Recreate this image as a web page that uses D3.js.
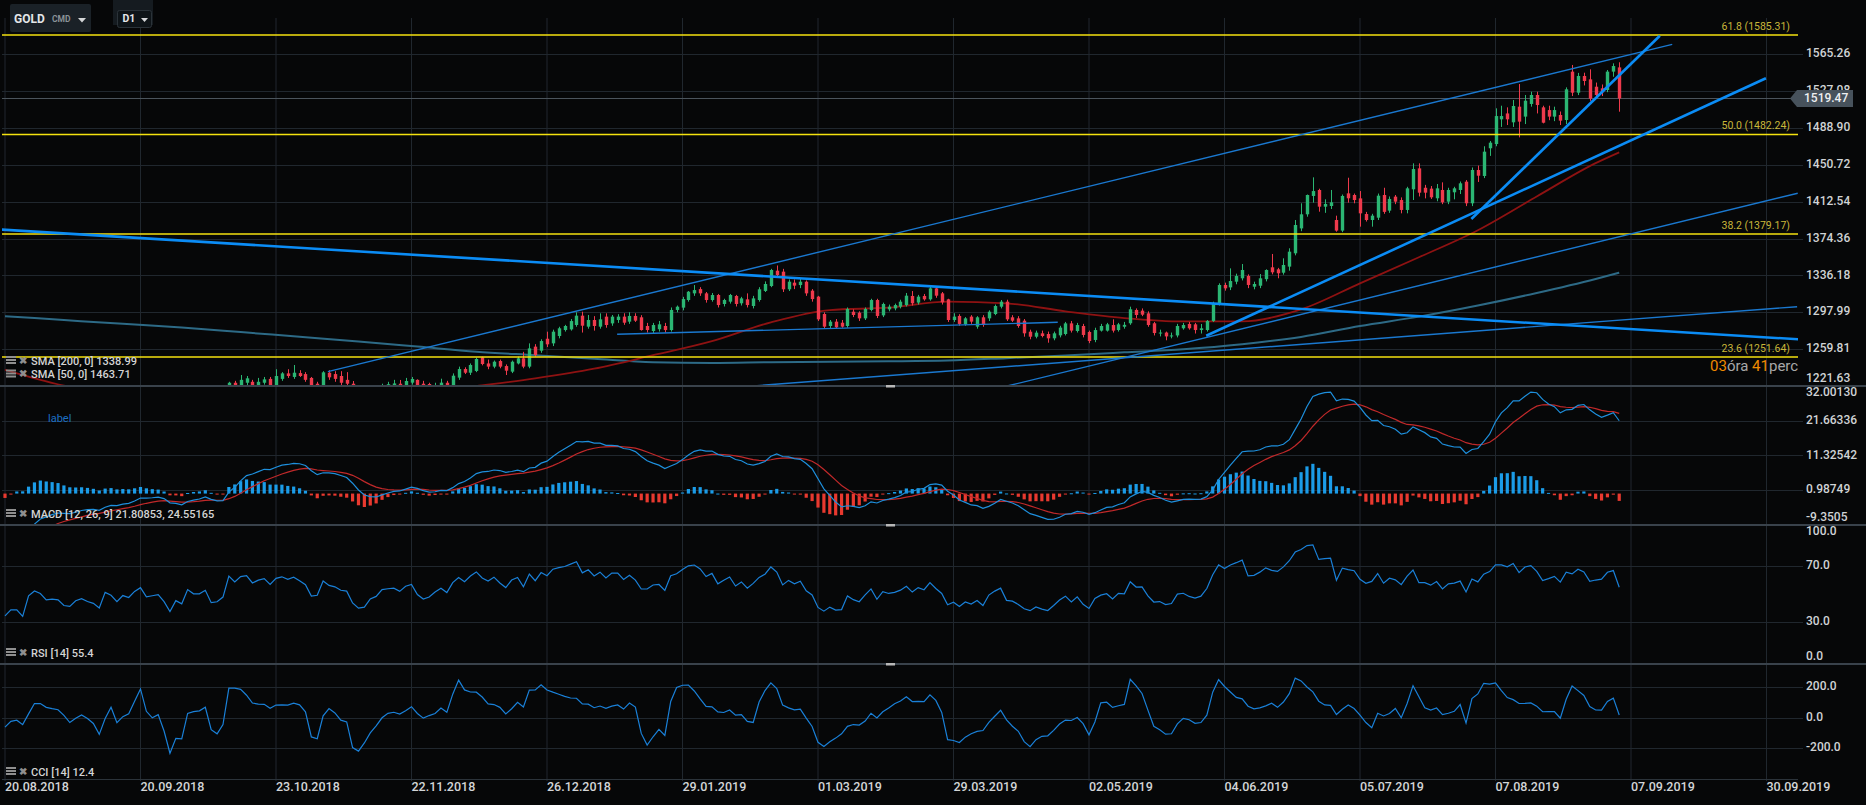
<!DOCTYPE html>
<html>
<head>
<meta charset="utf-8">
<script src="https://cdn.jsdelivr.net/npm/d3@7.9.0/dist/d3.min.js"></script>
<style>
  html, body { margin: 0; background: #060708; overflow: hidden; }
  svg { display: block; font-family: Roboto, 'Noto Sans', sans-serif; }
</style>
</head>
<body>
<svg id="chart" width="1866" height="805"></svg>
<script>
// closes before the visible range (June - July 2018), only used to warm up the indicators
const preCloses = [
  1294, 1292, 1297, 1297, 1298, 1298, 1299, 1294, 1299, 1302, 1278, 1279, 1276, 1268, 1263,
  1270, 1267, 1257, 1253, 1247, 1251,
  1242, 1253, 1253, 1257, 1255, 1259, 1254, 1245, 1245, 1241, 1240, 1227, 1224, 1223, 1231,
  1224, 1226, 1231, 1222, 1223, 1220, 1224
];

// daily candles [open, high, low, close], from 01.08.2018; bar 0 = 20.08.2018
const firstBar = 13;
const candles = [
  [1224,1228,1213,1216],[1216,1217,1204,1213],[1213,1220,1205,1214],[1214,1215,1204,1208],[1208,1216,1207,1209],
  [1209,1217,1207,1213],[1213,1217,1210,1212],[1212,1215,1206,1211],[1211,1212,1191,1194],[1194,1199,1190,1193],
  [1193,1195,1160,1174],[1174,1180,1167,1174],[1174,1188,1172,1184],
  // 0
  [1184,1193,1183,1190],[1190,1201,1188,1195],[1195,1199,1191,1195],[1195,1197,1183,1186],[1186,1207,1185,1206],
  [1206,1214,1203,1212],[1212,1214,1204,1209],[1209,1212,1199,1201],[1201,1207,1196,1202],[1202,1206,1196,1201],
  // 10
  [1201,1202,1193,1194],[1194,1195,1187,1193],[1193,1201,1191,1198],[1198,1204,1195,1200],[1200,1205,1194,1197],
  [1197,1201,1194,1195],[1195,1197,1187,1190],[1190,1205,1189,1204],[1204,1211,1201,1201],[1201,1206,1192,1194],
  // 20
  [1194,1203,1193,1200],[1200,1204,1195,1198],[1198,1206,1197,1204],[1204,1211,1202,1208],[1208,1209,1194,1199],
  [1199,1203,1195,1200],[1200,1204,1196,1201],[1201,1203,1191,1194],[1194,1195,1181,1182],[1182,1196,1180,1192],
  // 30
  [1192,1194,1183,1188],[1188,1208,1187,1204],[1204,1205,1196,1199],[1199,1206,1197,1199],[1199,1208,1197,1203],
  [1203,1203,1183,1188],[1188,1191,1182,1189],[1189,1196,1185,1194],[1194,1226,1192,1225],[1225,1227,1215,1218],
  // 40
  [1218,1233,1217,1228],[1225,1232,1221,1229.6],[1226,1228,1219,1221],[1221,1230,1218,1226],[1225,1231,1223,1228.5],
  [1229,1231,1219,1222],[1222,1239,1220,1232],[1229,1236,1227,1234.7],[1234.7,1239,1230,1232],[1231,1243.4,1229,1235.4],
  // 50
  [1235,1238,1231,1232],[1234,1236,1226,1228],[1230,1231,1213,1215],[1224,1226,1214,1216],[1215,1237,1213,1235.8],
  [1235.4,1238,1228,1230.6],[1234,1237,1226,1229],[1232,1237,1222,1225],[1228,1236,1222,1224],[1224,1226.8,1207,1209],
  // 60
  [1209,1212,1196,1201],[1201,1206,1197,1202],[1202,1213,1199,1211],[1211,1217,1208,1214],[1214,1224,1212,1222.5],
  [1221,1226,1218,1223.5],[1221,1228,1219,1224.3],[1224,1227.9,1219,1221],[1220,1230,1218,1226.8],[1225.1,1231,1223,1228.9],
  // 70
  [1228,1228.5,1217,1219],[1224,1227,1211,1214],[1223.7,1225,1214,1216],[1216,1225,1214,1221],[1221,1229.2,1217,1225.1],
  [1225,1227,1219,1221],[1221,1234.7,1220,1232.3],[1230.3,1241.7,1228,1239.2],[1239.2,1241,1234,1235.4],[1235.4,1245,1233,1243.4],
  // 80
  [1237.2,1251,1236,1249.6],[1251.3,1252,1243,1244.4],[1245,1249,1239,1241.7],[1241.7,1248,1240,1246.8],[1247.5,1249,1240,1241.7],
  [1242.3,1244,1233,1237.5],[1236.5,1248,1235,1246.8],[1245,1252,1244,1250.3],[1250.3,1257,1240,1241.7],[1241.7,1265.8,1240,1260.6],
  // 90
  [1262.4,1265,1252,1253.7],[1258.2,1270,1256,1268.2],[1270.6,1277.9,1262,1264.8],[1265.8,1280,1263,1277.9],[1273.4,1283,1271,1281.4],
  [1279.6,1285,1278,1283.8],[1280.3,1291,1279,1288.9],[1284.8,1298,1283,1294.5],[1294.5,1298.6,1277,1284.1],[1283.1,1295.2,1281,1290],
  // 100
  [1290,1294,1279,1283.8],[1283.1,1296.9,1281,1290.7],[1293.5,1296.9,1282,1284.8],[1286.5,1295.2,1284,1293.5],[1290,1296,1287,1293.5],
  [1293.5,1297,1285,1287.2],[1288.3,1298,1286,1294.2],[1294.2,1297,1288,1289.3],[1292.8,1295,1279,1279.6],[1283.8,1287,1277,1279.6],
  // 110
  [1278.6,1287,1276,1284.8],[1280.4,1289,1278,1285.5],[1283.8,1287,1277,1279.6],[1279.6,1303,1278,1300.4],[1300.4,1305,1298,1303.8],
  [1302.8,1314,1300,1311.7],[1310.7,1320,1309,1319.3],[1317.6,1326.2,1315,1321],[1322,1324,1315,1317.6],[1317.6,1319,1308,1310.7],
  // 120
  [1310.7,1318,1309,1315.9],[1315.9,1317,1303,1305.5],[1306.6,1312,1304,1310.7],[1309,1317,1307,1315.9],[1314.9,1316,1304,1306.6],
  [1307.3,1314,1305,1312.4],[1311.4,1317.6,1303,1305.5],[1304.5,1315,1302,1312.4],[1310.7,1324,1309,1321.8],[1320.1,1330,1319,1327.3],
  // 130
  [1325.2,1343,1324,1341.8],[1341.1,1346.5,1334,1336.6],[1340.1,1343,1319,1321.8],[1321.8,1332,1320,1329.7],[1328.7,1332,1322,1325.6],
  [1326.2,1333,1323,1329.7],[1329.7,1331,1315,1317.6],[1320.4,1322,1309,1311.7],[1314.2,1315,1289,1290.7],[1296.2,1298,1281,1283.1],
  // 140
  [1283.8,1290,1281,1288.3],[1288.3,1291,1281,1282.4],[1287.2,1290,1282,1283.1],[1283.8,1303,1282,1301.4],[1298.6,1301,1293,1295.2],
  [1297.6,1299,1289,1291.7],[1291.7,1303,1290,1301.4],[1300.4,1312,1299,1310.7],[1310.7,1312,1292,1294.2],[1294.8,1308,1293,1306.6],
  // 150
  [1301,1306,1299,1303.8],[1302,1307,1300,1305.5],[1303.8,1311,1302,1309],[1305.5,1318,1304,1315.2],[1314.9,1320,1305,1307.3],
  [1308,1316,1306,1314.2],[1314.9,1317,1310,1311.4],[1311.4,1325,1310,1322.8],[1322.8,1324,1313,1315.2],[1317.6,1319,1306,1308.3],
  // 160
  [1311.4,1312,1288,1290],[1290,1297,1288,1293.5],[1294.2,1296,1284,1285.9],[1285.5,1293,1284,1291.7],[1293.5,1295,1286,1288.3],
  [1283.1,1294,1281,1292.8],[1292.8,1295,1283,1284.8],[1291.7,1300,1289,1298.6],[1296.2,1306,1295,1304.5],[1303.8,1310.7,1302,1309],
  // 170
  [1309,1311,1289,1290.7],[1292.8,1295,1288,1289.3],[1291.7,1294,1282,1283.8],[1289.3,1291,1272.7,1276.2],[1277.9,1280,1270,1272.7],
  [1272.7,1279,1271,1276.9],[1276.2,1279,1272,1273.4],[1275.5,1278,1266.5,1271],[1271,1278,1269,1276.2],[1274.1,1284,1272,1282.1],
  // 180
  [1275.5,1288,1274,1286.5],[1286.5,1289,1277,1279],[1278.6,1287,1277,1284.8],[1283.8,1286,1272,1274.5],[1277.6,1279,1266,1268.2],
  [1269.3,1282,1267,1279.6],[1279,1286,1278,1283.8],[1279,1287,1278,1285.5],[1284.8,1290.7,1277,1279],[1279.6,1287,1278,1285.5],
  // 190
  [1283,1288,1281,1285],[1286.6,1303.8,1285,1301.1],[1300.4,1302,1292,1295.2],[1299.7,1302,1294,1295.5],[1296.9,1299,1283,1284.8],
  [1286.6,1288,1274,1276.5],[1277,1280,1273,1277],[1277,1278,1269,1273],[1273,1277,1271,1274],[1274,1286,1272,1283.8],
  // 200
  [1281.4,1287,1280,1284.8],[1285.9,1288,1280,1281.4],[1285.5,1287,1276,1279.6],[1279.6,1285.9,1276,1281.4],[1279.6,1290,1278,1289],
  [1289,1309,1288,1307.3],[1306.6,1328,1305,1326.3],[1326.3,1328.7,1320.4,1322.8],[1323.8,1343.5,1321,1330.4],[1329.7,1338,1327,1335.6],
  // 210
  [1333.2,1348,1331,1341.8],[1335.6,1337.3,1323,1326.3],[1324.5,1329.7,1321.8,1327.3],[1325.5,1337.6,1323,1333.2],[1332.3,1342.5,1330,1341.8],
  [1344.6,1358.4,1337.3,1339.4],[1342.5,1344,1333.2,1338.4],[1339,1353.9,1337,1347],[1345.3,1364.3,1341.1,1360.8],[1359.1,1393.6,1357,1388.4],
  // 220
  [1384.9,1410.9,1382,1399.5],[1399.5,1420,1397,1419.5],[1418.5,1437.8,1411.6,1423.6],[1424.7,1426,1402.2,1407.4],[1407.4,1415,1401,1410.2],
  [1408.1,1424.7,1405,1411.9],[1393.6,1398.1,1381.5,1382.6],[1382.6,1420,1381,1418.5],[1421.2,1437.4,1411.6,1416.1],[1419.5,1421,1410.9,1414.3],
  // 230
  [1416,1423.6,1386.7,1400.5],[1399.8,1402,1392,1393.6],[1393.6,1400,1386.7,1398.1],[1396,1421,1393.6,1418.8],[1419.5,1427,1400,1402],
  [1403.3,1418,1401,1415.4],[1417.8,1419.5,1410,1412.6],[1414.3,1417,1400.5,1404],[1404,1428,1400.5,1426.4],[1425.4,1452.3,1414.3,1446.4],
  // 240
  [1447.1,1452.3,1418,1421.9],[1427,1430,1416,1421.9],[1426.1,1428.8,1415.4,1417.1],[1416.1,1430.9,1413,1426.4],[1424.7,1432.6,1410,1411.9],
  [1412.6,1427,1410,1424.7],[1422.3,1428,1415,1426.4],[1424.7,1433.5,1420.5,1431.6],[1433.3,1435,1408,1410.9],[1410.9,1448,1408,1445.4],
  // 250
  [1445.4,1450,1433,1439.5],[1439.2,1470,1437,1464.4],[1467.9,1475.4,1460,1473.7],[1472.3,1509.3,1470,1501.3],[1497.9,1512,1490,1501.3],
  [1504,1510.3,1492,1497.9],[1494.8,1517.9,1490,1511.7],[1511,1534.5,1479.2,1495.5],[1500.7,1523.1,1493,1517.2],[1513.8,1526.5,1511,1523.1],
  // 260
  [1523.1,1526.5,1504,1512.7],[1510.3,1512,1493.7,1494.4],[1507.5,1512,1497,1500.7],[1500.7,1511,1496,1507.5],[1502.4,1506,1492,1496.5],
  [1497.2,1531,1493,1529],[1547.3,1554.2,1522,1525.5],[1525.5,1546,1523,1542.8],[1542.8,1546.2,1533,1537.6],[1539.3,1549.7,1517,1519.3],
  // 270
  [1531.7,1536,1519,1523.1],[1530,1534,1522,1525.9],[1528.3,1549,1526,1547.3],[1547.3,1555.9,1542,1553.1],[1551.7,1557,1505.8,1519.47]
];

const smaBars = [0,10,20,30,40,50,60,70,80,90,100,110,120,130,140,150,160,170,180,190,200,210,220,230,240,250,260,270,274];
const sma200 = [1294,1290,1286,1282.3,1277.5,1272.6,1267.7,1262.5,1257.2,1253.5,1249.8,1246.3,1245.5,1246.3,1246.8,
  1247.2,1248,1250.5,1253.3,1256.5,1259.8,1265,1272.5,1283.8,1293.5,1305,1318,1332.5,1339];
const sma50 = [1238.4,1222,1212,1204,1200,1203,1208,1214,1221.5,1229.5,1239.6,1253.5,1268,1287.6,1300.3,
  1302.8,1309,1307.3,1299,1292,1288.5,1288.6,1301,1328,1355,1383,1418,1452.5,1463.7];

// drawn trend lines: [bar1, price1, bar2, price2]
const heavyLines = [
  [-1, 1383.8, 304.4, 1270.0],
  [203.9, 1273.7, 298.9, 1540.4],
  [248.9, 1394.6, 280.9, 1584.5]
];
const lightLines = [
  [54.8, 1236.5, 283.0, 1575.6],
  [170.1, 1221.6, 304.3, 1421.3],
  [124.8, 1220.7, 304.2, 1303.8],
  [103.9, 1275.2, 178.7, 1287.6]
];

const fibLevels = ['61.8', '50.0', '38.2', '23.6'];
const fibPrices = [1585.31, 1482.24, 1379.17, 1251.64];
const lastPrice = 1519.47;

const priceTicks = [1565.26, 1527.08, 1488.90, 1450.72, 1412.54, 1374.36, 1336.18, 1297.99, 1259.81, 1221.63];
const macdTicks = ['32.00130', '21.66336', '11.32542', '0.98749', '-9.3505'];
const rsiTicks = ['100.0', '70.0', '30.0', '0.0'];
const cciTicks = ['200.0', '0.0', '-200.0'];
const dateLabels = ['20.08.2018', '20.09.2018', '23.10.2018', '22.11.2018', '26.12.2018', '29.01.2019', '01.03.2019',
  '29.03.2019', '02.05.2019', '04.06.2019', '05.07.2019', '07.08.2019', '07.09.2019', '30.09.2019'];
const barsPerLabel = 23;

const legendSma = ['SMA [200,  0] 1338.99', 'SMA [50,  0] 1463.71'];
const legendMacd = 'MACD [12, 26, 9] 21.80853,  24.55165';
const legendRsi = 'RSI [14]  55.4';
const legendCci = 'CCI [14]  12.4';

// ---------- indicators computed from the candles ----------
const closes = preCloses.concat(candles.map(d => d[3]));
const offset = preCloses.length + firstBar;

function ema(values, n) {
  const k = 2 / (n + 1);
  let prev = values[0];
  return values.map((v, i) => (prev = i === 0 ? v : v * k + prev * (1 - k)));
}
const e12 = ema(closes, 12);
const e26 = ema(closes, 26);
const macd = closes.map((c, i) => e12[i] - e26[i]);
const signal = ema(macd, 9);

const rsi = [];
let avgGain = 0, avgLoss = 0;
for (let k = 1; k < closes.length; k++) {
  const ch = closes[k] - closes[k - 1];
  const g = Math.max(ch, 0), l = Math.max(-ch, 0);
  if (k <= 14) { avgGain += g / 14; avgLoss += l / 14; }
  else { avgGain = (avgGain * 13 + g) / 14; avgLoss = (avgLoss * 13 + l) / 14; }
  rsi[k] = k >= 14 ? 100 - 100 / (1 + avgGain / avgLoss) : null;
}

const typical = candles.map(d => (d[1] + d[2] + d[3]) / 3);
const cci = typical.map((v, k) => {
  if (k < 13) return null;
  const w = typical.slice(k - 13, k + 1);
  const m = d3.mean(w);
  const md = d3.mean(w, t => Math.abs(t - m));
  return (v - m) / (0.015 * md);
});

// bar-indexed series for visible bars
const bars = d3.range(0, candles.length - firstBar);
const macdRows = bars.map(i => ({ i, m: macd[i + offset], s: signal[i + offset], h: macd[i + offset] - signal[i + offset] }));
const rsiRows = bars.map(i => ({ i, v: rsi[i + offset] }));
const cciRows = bars.map(i => ({ i, v: cci[i + firstBar] }));

// ---------- layout ----------
const W = 1866;
const plotL = 2, plotR = 1798;
const panels = {
  main: [0, 386],
  macd: [386, 525],
  rsi: [525, 664],
  cci: [664, 779]
};

const x = d3.scaleLinear().domain([0, barsPerLabel]).range([5, 140.5]);
const yMain = d3.scaleLinear().domain([1221.63, 1565.26]).range([386, 54.3]);
const yMacd = d3.scaleLinear().domain([-9.3505, 32.0013]).range([525, 386]);
const yRsi = d3.scaleLinear().domain([0, 100]).range([664, 524]);
const yCci = d3.scaleLinear().domain([-402, 352]).range([779, 664]);

const svg = d3.select('#chart');
svg.append('rect').attr('width', W).attr('height', 805).attr('fill', '#060708');

const defs = svg.append('defs');
Object.entries(panels).forEach(([key, [t, b]]) => {
  defs.append('clipPath').attr('id', 'clip-' + key)
    .append('rect').attr('x', plotL).attr('y', t).attr('width', plotR - plotL).attr('height', b - t);
});

const gridColor = '#20272e';

// vertical grid
svg.append('g').selectAll('line')
  .data(dateLabels)
  .join('line')
  .attr('x1', (d, k) => x(k * barsPerLabel)).attr('x2', (d, k) => x(k * barsPerLabel))
  .attr('y1', 18).attr('y2', 781)
  .attr('stroke', gridColor).attr('stroke-width', 1);

// horizontal grids
function hGrid(values, scale) {
  svg.append('g').selectAll('line')
    .data(values)
    .join('line')
    .attr('x1', plotL).attr('x2', 1803)
    .attr('y1', d => Math.round(scale(d)) + 0.5).attr('y2', d => Math.round(scale(d)) + 0.5)
    .attr('stroke', gridColor).attr('stroke-width', 1);
}
hGrid(priceTicks.slice(0, -1), yMain);
hGrid(macdTicks.slice(1, 4).map(Number), yMacd);
hGrid([70, 30], yRsi);
hGrid([200, 0, -200], yCci);

// ---------- main panel ----------
const main = svg.append('g').attr('clip-path', 'url(#clip-main)');

main.append('line')
  .attr('x1', plotL).attr('x2', plotR)
  .attr('y1', yMain(lastPrice)).attr('y2', yMain(lastPrice))
  .attr('stroke', '#4b545c').attr('stroke-width', 1);

const smaLine = vals => d3.line()
  .x((d, k) => x(smaBars[k]))
  .y(d => yMain(d))
  .curve(d3.curveMonotoneX)(vals);

main.append('path').attr('d', smaLine(sma200))
  .attr('fill', 'none').attr('stroke', '#2d6a86').attr('stroke-width', 2);
main.append('path').attr('d', smaLine(sma50))
  .attr('fill', 'none').attr('stroke', '#8e1212').attr('stroke-width', 1.8);

const candleData = candles.map((d, k) => ({ i: k - firstBar, o: d[0], h: d[1], l: d[2], c: d[3] }));
const up = '#2bb673', down = '#ee3a4c';
const cg = main.append('g').selectAll('g')
  .data(candleData)
  .join('g');
cg.append('line')
  .attr('x1', d => Math.round(x(d.i)) + 0.5).attr('x2', d => Math.round(x(d.i)) + 0.5)
  .attr('y1', d => yMain(d.h)).attr('y2', d => yMain(d.l))
  .attr('stroke', d => d.c >= d.o ? up : down).attr('stroke-width', 1);
cg.append('rect')
  .attr('x', d => Math.round(x(d.i)) - 1.2)
  .attr('width', 3.4)
  .attr('y', d => yMain(Math.max(d.o, d.c)))
  .attr('height', d => Math.max(1, Math.abs(yMain(d.o) - yMain(d.c))))
  .attr('fill', d => d.c >= d.o ? up : down);

// fibonacci levels
main.append('g').selectAll('line')
  .data(fibPrices)
  .join('line')
  .attr('x1', plotL).attr('x2', plotR)
  .attr('y1', d => yMain(d)).attr('y2', d => yMain(d))
  .attr('stroke', '#f4e20f').attr('stroke-width', 1.4);
svg.append('g').selectAll('text')
  .data(fibPrices)
  .join('text')
  .attr('x', 1790).attr('y', d => yMain(d) - 8)
  .attr('text-anchor', 'end').attr('dominant-baseline', 'middle')
  .attr('font-size', 10.5).attr('fill', '#c9b63a')
  .text((d, k) => `${fibLevels[k]} (${d.toFixed(2)})`);

// trend lines
main.append('g').selectAll('line')
  .data(lightLines)
  .join('line')
  .attr('x1', d => x(d[0])).attr('y1', d => yMain(d[1]))
  .attr('x2', d => x(d[2])).attr('y2', d => yMain(d[3]))
  .attr('stroke', '#1a78cf').attr('stroke-width', 1.4);
main.append('g').selectAll('line')
  .data(heavyLines)
  .join('line')
  .attr('x1', d => x(d[0])).attr('y1', d => yMain(d[1]))
  .attr('x2', d => x(d[2])).attr('y2', d => yMain(d[3]))
  .attr('stroke', '#0b8cf5').attr('stroke-width', 2.6);

// ---------- MACD ----------
const macdG = svg.append('g').attr('clip-path', 'url(#clip-macd)');
macdG.append('g').selectAll('rect')
  .data(macdRows)
  .join('rect')
  .attr('x', d => x(d.i) - 1.6)
  .attr('width', 3.2)
  .attr('y', d => Math.min(yMacd(0), yMacd(d.h)))
  .attr('height', d => Math.max(1, Math.abs(yMacd(d.h) - yMacd(0))))
  .attr('fill', d => d.h >= 0 ? '#1b9ce8' : '#e8392f');
macdG.append('path')
  .attr('d', d3.line().x(d => x(d.i)).y(d => yMacd(d.s))(macdRows))
  .attr('fill', 'none').attr('stroke', '#c0292a').attr('stroke-width', 1.2);
macdG.append('path')
  .attr('d', d3.line().x(d => x(d.i)).y(d => yMacd(d.m))(macdRows))
  .attr('fill', 'none').attr('stroke', '#1e8fdc').attr('stroke-width', 1.2);

svg.append('text').attr('x', 48).attr('y', 419).attr('dominant-baseline', 'middle')
  .attr('font-size', 11).attr('fill', '#1d6fc4').text('label');

// ---------- RSI ----------
svg.append('g').attr('clip-path', 'url(#clip-rsi)').append('path')
  .attr('d', d3.line().defined(d => d.v != null).x(d => x(d.i)).y(d => yRsi(d.v))(rsiRows))
  .attr('fill', 'none').attr('stroke', '#1a80d8').attr('stroke-width', 1.2);

// ---------- CCI ----------
svg.append('g').attr('clip-path', 'url(#clip-cci)').append('path')
  .attr('d', d3.line().defined(d => d.v != null).x(d => x(d.i)).y(d => yCci(d.v))(cciRows))
  .attr('fill', 'none').attr('stroke', '#1a80d8').attr('stroke-width', 1.2);

// ---------- panel separators ----------
[panels.main[1], panels.macd[1], panels.rsi[1]].forEach(yy => {
  svg.append('line').attr('x1', 0).attr('x2', W).attr('y1', yy).attr('y2', yy)
    .attr('stroke', '#39424b').attr('stroke-width', 2);
  svg.append('rect').attr('x', 886).attr('y', yy - 1).attr('width', 9).attr('height', 2.5).attr('fill', '#b8b8b8');
});
svg.append('line').attr('x1', plotL).attr('x2', plotR).attr('y1', 779.5).attr('y2', 779.5)
  .attr('stroke', '#2b333a').attr('stroke-width', 1);

// ---------- right axis labels ----------
const axisFill = '#d0d3d5';
function axisLabels(labels, scale, top, bottom) {
  svg.append('g').selectAll('text')
    .data(labels)
    .join('text')
    .attr('x', 1806)
    .attr('y', d => Math.max(top + 7, Math.min(bottom - 7, scale(+d))))
    .attr('dominant-baseline', 'middle')
    .attr('font-size', 12).attr('font-weight', 500).attr('fill', axisFill)
    .text(d => d);
}
axisLabels(priceTicks.map(d => d.toFixed(2)), yMain, 0, 386);
axisLabels(macdTicks, yMacd, 386, 525);
axisLabels(rsiTicks, yRsi, 525, 664);
axisLabels(cciTicks, yCci, 664, 779);

// last price tag
const ly = yMain(lastPrice);
svg.append('path')
  .attr('d', `M1790,${ly} L1797,${ly - 8.5} L1853,${ly - 8.5} L1853,${ly + 8.5} L1797,${ly + 8.5} Z`)
  .attr('fill', '#47525c');
svg.append('text').attr('x', 1804).attr('y', ly).attr('dominant-baseline', 'middle')
  .attr('font-size', 12).attr('font-weight', 500).attr('fill', '#eef0f2').text(lastPrice.toFixed(2));

// countdown
const cd = svg.append('text').attr('x', 1710).attr('y', 367).attr('dominant-baseline', 'middle')
  .attr('font-size', 15);
cd.append('tspan').attr('fill', '#f08a00').text('03');
cd.append('tspan').attr('fill', '#a8a8a8').text('óra ');
cd.append('tspan').attr('fill', '#f08a00').text('41');
cd.append('tspan').attr('fill', '#a8a8a8').text('perc');

// ---------- date axis ----------
svg.append('g').selectAll('text')
  .data(dateLabels)
  .join('text')
  .attr('x', (d, k) => x(k * barsPerLabel))
  .attr('y', 788)
  .attr('dominant-baseline', 'middle')
  .attr('font-size', 12.5).attr('font-weight', 500).attr('fill', '#d3d5d7')
  .text(d => d);

// ---------- legends ----------
function legend(yy, label) {
  const g = svg.append('g');
  g.append('rect').attr('x', 6).attr('y', yy - 5).attr('width', 10).attr('height', 2).attr('fill', '#8f8f8f');
  g.append('rect').attr('x', 6).attr('y', yy - 2).attr('width', 10).attr('height', 2).attr('fill', '#8f8f8f');
  g.append('rect').attr('x', 6).attr('y', yy + 1).attr('width', 10).attr('height', 2).attr('fill', '#8f8f8f');
  g.append('text').attr('x', 19).attr('y', yy).attr('dominant-baseline', 'middle')
    .attr('font-size', 10).attr('font-weight', 700).attr('fill', '#8f8f8f').text('✖');
  g.append('text').attr('x', 31).attr('y', yy + 1).attr('dominant-baseline', 'middle')
    .attr('font-size', 11).attr('font-weight', 500).attr('fill', '#d4d4d4').text(label);
}
legend(361, legendSma[0]);
legend(374.5, legendSma[1]);
legend(514, legendMacd);
legend(653, legendRsi);
legend(772, legendCci);

// ---------- toolbar ----------
svg.append('rect').attr('x', 10).attr('y', 4).attr('width', 81).attr('height', 28).attr('rx', 2).attr('fill', '#1a2127');
svg.append('text').attr('x', 14).attr('y', 19.5).attr('dominant-baseline', 'middle')
  .attr('font-size', 12).attr('font-weight', 700).attr('fill', '#e4e6e8').text('GOLD');
svg.append('text').attr('x', 52).attr('y', 19.5).attr('dominant-baseline', 'middle')
  .attr('font-size', 8.5).attr('font-weight', 700).attr('fill', '#8a9298').text('CMD');
svg.append('path').attr('d', 'M78,18 L86,18 L82,22.5 Z').attr('fill', '#d4d6d8');
svg.append('rect').attr('x', 113).attr('y', 0).attr('width', 40).attr('height', 25).attr('fill', '#151b20');
svg.append('rect').attr('x', 117.5).attr('y', 10.5).attr('width', 34).attr('height', 17).attr('rx', 2)
  .attr('fill', '#0e1418').attr('stroke', '#2b3339');
svg.append('text').attr('x', 122.5).attr('y', 19.5).attr('dominant-baseline', 'middle')
  .attr('font-size', 10.5).attr('font-weight', 700).attr('fill', '#e4e6e8').text('D1');
svg.append('path').attr('d', 'M141,18 L148,18 L144.5,22 Z').attr('fill', '#d4d6d8');
</script>
</body>
</html>
